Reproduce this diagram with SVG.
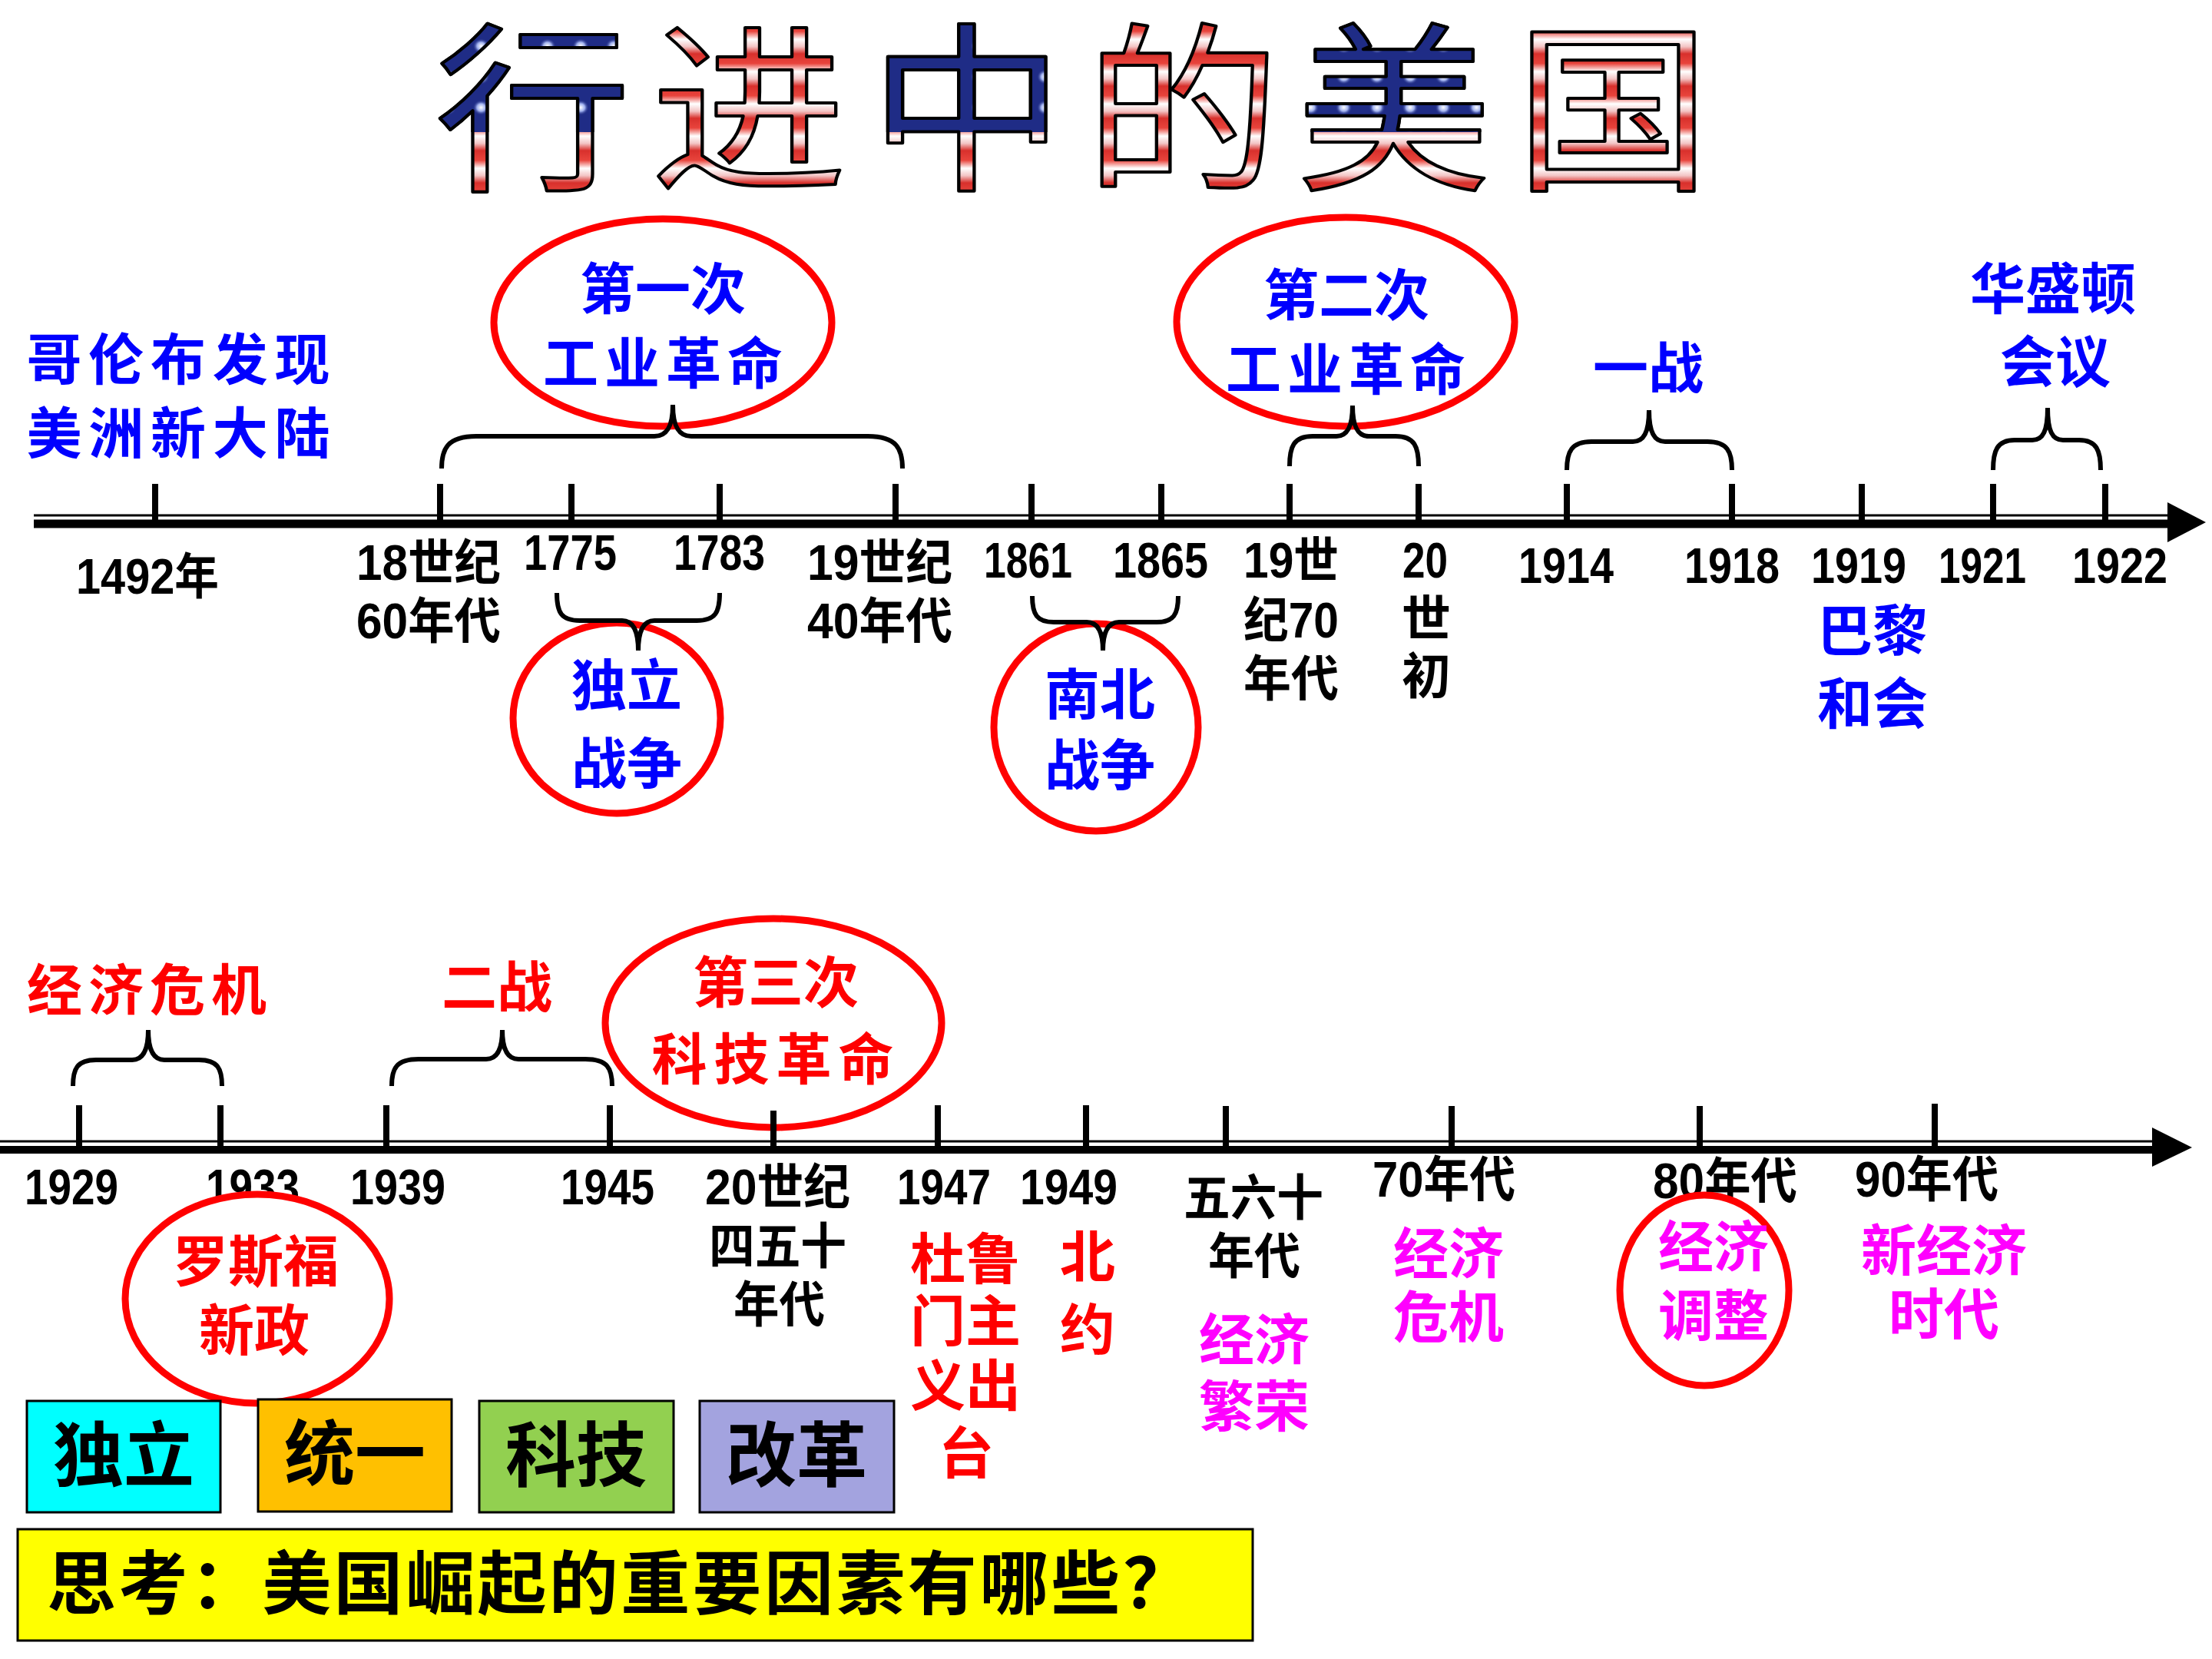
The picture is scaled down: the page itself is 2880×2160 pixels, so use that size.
<svg xmlns="http://www.w3.org/2000/svg" width="2880" height="2160" viewBox="0 0 2880 2160">
<style>
.num{font-family:"Liberation Sans Narrow","Liberation Sans","Noto Sans CJK SC",sans-serif;font-weight:bold;font-size:64px;fill:#000}
.lab{font-family:"Liberation Sans Narrow","Liberation Sans","Noto Sans CJK SC",sans-serif;font-weight:bold;font-size:64px;fill:#000}
.cjk{font-family:"Noto Sans CJK SC",sans-serif;font-weight:bold;font-size:72px;text-anchor:middle}
.blue{fill:#0000FF}
.red{fill:#FF0000}
.mag{fill:#FF00FF}
.ell{fill:#fff;stroke:#FF0000;stroke-width:9}
.brace{fill:none;stroke:#000;stroke-width:6;stroke-linecap:butt}
.tick{stroke:#000;stroke-width:8}
.box{stroke:#000;stroke-width:3}
.boxt{font-family:"Noto Sans CJK SC",sans-serif;font-weight:bold;font-size:92px;fill:#000;text-anchor:middle}
.title{font-family:"Noto Sans CJK SC",sans-serif;font-weight:400;font-size:236px;text-anchor:middle;stroke:#000;stroke-width:4;stroke-linejoin:round}
</style>
<defs>
<linearGradient id="stripes" gradientUnits="userSpaceOnUse" x1="0" y1="28" x2="0" y2="70" spreadMethod="repeat">
<stop offset="0" stop-color="#d8302c"/>
<stop offset="0.3" stop-color="#e8443c"/>
<stop offset="0.55" stop-color="#ffffff"/>
<stop offset="0.78" stop-color="#f3c4c4"/>
<stop offset="1" stop-color="#d8302c"/>
</linearGradient>
<radialGradient id="glow">
<stop offset="0" stop-color="#ffffff"/>
<stop offset="0.5" stop-color="#9fb0ee"/>
<stop offset="1" stop-color="#1f2c86" stop-opacity="0"/>
</radialGradient>
<pattern id="stars" patternUnits="userSpaceOnUse" width="40" height="40">
<rect width="40" height="40" fill="#1f2c86"/>
<circle cx="20" cy="20" r="10" fill="url(#glow)"/>
</pattern>
<clipPath id="topClip"><rect x="0" y="0" width="2880" height="172"/></clipPath>
</defs>

<g id="title" transform="scale(1.08,1)">
<text class="title" fill="url(#stripes)"><tspan x="642.6" y="230">行</tspan><tspan x="902.8" y="230">进</tspan><tspan x="1165.7" y="230">中</tspan><tspan x="1425.9" y="230">的</tspan><tspan x="1680.6" y="230">美</tspan><tspan x="1944.4" y="230">国</tspan></text>
<text class="title" fill="url(#stars)" clip-path="url(#topClip)"><tspan x="642.6" y="230">行</tspan><tspan x="1165.7" y="230">中</tspan><tspan x="1680.6" y="230">美</tspan></text>
</g>

<g id="labels-top">
<text class="lab" x="99" y="773" textLength="186" lengthAdjust="spacingAndGlyphs">1492年</text>
<text class="lab" x="464" y="755" textLength="188" lengthAdjust="spacingAndGlyphs">18世纪</text>
<text class="lab" x="464" y="831" textLength="188" lengthAdjust="spacingAndGlyphs">60年代</text>
<text class="num" x="682" y="742" textLength="121" lengthAdjust="spacingAndGlyphs">1775</text>
<text class="num" x="877" y="742" textLength="119" lengthAdjust="spacingAndGlyphs">1783</text>
<text class="lab" x="1051" y="755" textLength="189" lengthAdjust="spacingAndGlyphs">19世纪</text>
<text class="lab" x="1051" y="831" textLength="189" lengthAdjust="spacingAndGlyphs">40年代</text>
<text class="num" x="1281" y="752" textLength="115" lengthAdjust="spacingAndGlyphs">1861</text>
<text class="num" x="1449" y="752" textLength="124" lengthAdjust="spacingAndGlyphs">1865</text>
<text class="lab" x="1619" y="752" textLength="124" lengthAdjust="spacingAndGlyphs">19世</text>
<text class="lab" x="1619" y="830" textLength="124" lengthAdjust="spacingAndGlyphs">纪70</text>
<text class="lab" x="1619" y="906" textLength="124" lengthAdjust="spacingAndGlyphs">年代</text>
<text class="num" x="1826" y="752" textLength="59" lengthAdjust="spacingAndGlyphs">20</text>
<text class="lab" x="1825" y="828">世</text>
<text class="lab" x="1825" y="903">初</text>
<text class="num" x="1977" y="759" textLength="124" lengthAdjust="spacingAndGlyphs">1914</text>
<text class="num" x="2193" y="759" textLength="124" lengthAdjust="spacingAndGlyphs">1918</text>
<text class="num" x="2358" y="759" textLength="124" lengthAdjust="spacingAndGlyphs">1919</text>
<text class="num" x="2524" y="759" textLength="114" lengthAdjust="spacingAndGlyphs">1921</text>
<text class="num" x="2698" y="759" textLength="124" lengthAdjust="spacingAndGlyphs">1922</text>
</g>

<g id="labels-bottom">
<text class="num" x="32" y="1568" textLength="122" lengthAdjust="spacingAndGlyphs">1929</text>
<text class="num" x="268" y="1568" textLength="122" lengthAdjust="spacingAndGlyphs">1933</text>
<text class="num" x="456" y="1568" textLength="124" lengthAdjust="spacingAndGlyphs">1939</text>
<text class="num" x="730" y="1568" textLength="122" lengthAdjust="spacingAndGlyphs">1945</text>
<text class="lab" x="918" y="1568" textLength="189" lengthAdjust="spacingAndGlyphs">20世纪</text>
<text class="lab" x="923" y="1645" textLength="179" lengthAdjust="spacingAndGlyphs">四五十</text>
<text class="lab" x="955" y="1721" textLength="119" lengthAdjust="spacingAndGlyphs">年代</text>
<text class="num" x="1168" y="1568" textLength="122" lengthAdjust="spacingAndGlyphs">1947</text>
<text class="num" x="1328" y="1568" textLength="127" lengthAdjust="spacingAndGlyphs">1949</text>
<text class="lab" x="1541" y="1582" textLength="182" lengthAdjust="spacingAndGlyphs">五六十</text>
<text class="lab" x="1573" y="1658" textLength="120" lengthAdjust="spacingAndGlyphs">年代</text>
<text class="lab" x="1787" y="1558" textLength="186" lengthAdjust="spacingAndGlyphs">70年代</text>
<text class="lab" x="2152" y="1560" textLength="188" lengthAdjust="spacingAndGlyphs">80年代</text>
<text class="lab" x="2415" y="1558" textLength="187" lengthAdjust="spacingAndGlyphs">90年代</text>
</g>

<g id="events-plain">
<text class="cjk blue" x="232" y="494" textLength="395" lengthAdjust="spacing">哥伦布发现</text>
<text class="cjk blue" x="232" y="590" textLength="395" lengthAdjust="spacing">美洲新大陆</text>
<text class="cjk blue" x="2146" y="505">一战</text>
<text class="cjk blue" x="2673" y="402">华盛顿</text>
<text class="cjk blue" x="2676" y="497">会议</text>
<text class="cjk blue" x="2438" y="847">巴黎</text>
<text class="cjk blue" x="2438" y="942">和会</text>
<text class="cjk red" x="191" y="1315" textLength="312" lengthAdjust="spacing">经济危机</text>
<text class="cjk red" x="647" y="1311">二战</text>
<text class="cjk red" x="1257" y="1665">杜鲁</text>
<text class="cjk red" x="1257" y="1746">门主</text>
<text class="cjk red" x="1257" y="1830">义出</text>
<text class="cjk red" x="1258" y="1918">台</text>
<text class="cjk red" x="1416" y="1662">北</text>
<text class="cjk red" x="1416" y="1757">约</text>
<text class="cjk mag" x="1633" y="1770">经济</text>
<text class="cjk mag" x="1633" y="1857">繁荣</text>
<text class="cjk mag" x="1886" y="1658">经济</text>
<text class="cjk mag" x="1886" y="1741">危机</text>
<text class="cjk mag" x="2531" y="1654">新经济</text>
<text class="cjk mag" x="2531" y="1737">时代</text>
</g>

<g id="node-ir1">
<ellipse class="ell" cx="863" cy="420" rx="220" ry="135"/>
<text class="cjk blue" x="863" y="402">第一次</text>
<text class="cjk blue" x="863" y="499" textLength="312" lengthAdjust="spacing">工业革命</text>
</g>
<g id="node-ir2">
<ellipse class="ell" cx="1752" cy="419" rx="220" ry="136"/>
<text class="cjk blue" x="1753" y="410">第二次</text>
<text class="cjk blue" x="1752" y="507" textLength="312" lengthAdjust="spacing">工业革命</text>
</g>
<g id="node-indep">
<ellipse class="ell" cx="803" cy="935" rx="135" ry="124"/>
<text class="cjk blue" x="816" y="918">独立</text>
<text class="cjk blue" x="816" y="1020">战争</text>
</g>
<g id="node-civil">
<ellipse class="ell" cx="1427" cy="947" rx="133" ry="135"/>
<text class="cjk blue" x="1432" y="930">南北</text>
<text class="cjk blue" x="1432" y="1022">战争</text>
</g>
<g id="node-newdeal">
<ellipse class="ell" cx="335" cy="1691" rx="172" ry="136"/>
<text class="cjk red" x="333" y="1668">罗斯福</text>
<text class="cjk red" x="331" y="1758">新政</text>
</g>
<g id="node-ir3">
<ellipse class="ell" cx="1007" cy="1332" rx="219" ry="136"/>
<text class="cjk red" x="1010" y="1305">第三次</text>
<text class="cjk red" x="1006" y="1405" textLength="315" lengthAdjust="spacing">科技革命</text>
</g>
<g id="node-adjust">
<ellipse class="ell" cx="2219" cy="1680" rx="110" ry="124"/>
<text class="cjk mag" x="2231" y="1649">经济</text>
<text class="cjk mag" x="2231" y="1739">调整</text>
</g>

<g id="connectors">
<path class="brace" d="M575,610 C575,585 582,568 620,568 L852,568 C868,568 876,556 876,527 C876,556 884,568 900,568 L1130,568 C1168,568 1175,585 1175,610"/>
<path class="brace" d="M1679,607 C1679,582 1684,568 1709,568 L1740,568 C1754,568 1761,556 1761,528 C1761,556 1768,568 1782,568 L1817,568 C1842,568 1847,582 1847,607"/>
<path class="brace" d="M2040,612 C2040,588 2046,575 2072,575 L2126,575 C2140,575 2147,563 2147,534 C2147,563 2154,575 2168,575 L2223,575 C2249,575 2255,588 2255,612"/>
<path class="brace" d="M2595,612 C2595,587 2600,573 2623,573 L2646,573 C2660,573 2666,561 2666,531 C2666,561 2672,573 2686,573 L2707,573 C2730,573 2735,587 2735,612"/>
<path class="brace" d="M725,772 C725,798 731,808 755,808 L810,808 C824,808 831,820 831,847 C831,820 838,808 852,808 L907,808 C931,808 937,798 937,772"/>
<path class="brace" d="M1344,776 C1344,800 1350,810 1372,810 L1415,810 C1429,810 1436,822 1436,847 C1436,822 1443,810 1457,810 L1506,810 C1528,810 1534,800 1534,776"/>
<path class="brace" d="M95,1414 C95,1392 100,1380 125,1380 L172,1380 C186,1380 193,1368 193,1341 C193,1368 200,1380 214,1380 L259,1380 C284,1380 289,1392 289,1414"/>
<path class="brace" d="M510,1414 C510,1391 516,1379 545,1379 L633,1379 C647,1379 654,1367 654,1341 C654,1367 661,1379 675,1379 L762,1379 C791,1379 797,1391 797,1414"/>
</g>

<g id="axis-top">
<line x1="44" y1="671" x2="2830" y2="671" stroke="#000" stroke-width="3"/>
<line x1="44" y1="682" x2="2830" y2="682" stroke="#000" stroke-width="11"/>
<polygon points="2822,654 2872,680 2822,706" fill="#000"/>
<g class="tick">
<line x1="202" y1="630" x2="202" y2="682"/>
<line x1="573" y1="630" x2="573" y2="682"/>
<line x1="744" y1="630" x2="744" y2="682"/>
<line x1="937" y1="630" x2="937" y2="682"/>
<line x1="1166" y1="630" x2="1166" y2="682"/>
<line x1="1343" y1="630" x2="1343" y2="682"/>
<line x1="1512" y1="630" x2="1512" y2="682"/>
<line x1="1679" y1="630" x2="1679" y2="682"/>
<line x1="1847" y1="630" x2="1847" y2="682"/>
<line x1="2040" y1="630" x2="2040" y2="682"/>
<line x1="2255" y1="630" x2="2255" y2="682"/>
<line x1="2424" y1="630" x2="2424" y2="682"/>
<line x1="2595" y1="630" x2="2595" y2="682"/>
<line x1="2741" y1="630" x2="2741" y2="682"/>
</g>
</g>

<g id="axis-bottom">
<line x1="0" y1="1486" x2="2810" y2="1486" stroke="#000" stroke-width="3"/>
<line x1="0" y1="1497" x2="2810" y2="1497" stroke="#000" stroke-width="10"/>
<polygon points="2802,1468 2854,1494 2802,1519" fill="#000"/>
<g class="tick">
<line x1="103" y1="1439" x2="103" y2="1495"/>
<line x1="287" y1="1439" x2="287" y2="1495"/>
<line x1="503" y1="1439" x2="503" y2="1495"/>
<line x1="794" y1="1439" x2="794" y2="1495"/>
<line x1="1007" y1="1446" x2="1007" y2="1495"/>
<line x1="1221" y1="1439" x2="1221" y2="1495"/>
<line x1="1414" y1="1439" x2="1414" y2="1495"/>
<line x1="1596" y1="1440" x2="1596" y2="1495"/>
<line x1="1890" y1="1440" x2="1890" y2="1495"/>
<line x1="2213" y1="1440" x2="2213" y2="1495"/>
<line x1="2519" y1="1437" x2="2519" y2="1495"/>
</g>
</g>

<g id="box-indep"><rect class="box" x="35" y="1824" width="252" height="145" fill="#00FFFF"/><text class="boxt" x="161" y="1928">独立</text></g>
<g id="box-unity"><rect class="box" x="336" y="1822" width="252" height="146" fill="#FFC000"/><text class="boxt" x="462" y="1926">统一</text></g>
<g id="box-tech"><rect class="box" x="624" y="1824" width="253" height="145" fill="#92D050"/><text class="boxt" x="750" y="1928">科技</text></g>
<g id="box-reform"><rect class="box" x="911" y="1824" width="253" height="145" fill="#A3A3DF"/><text class="boxt" x="1037" y="1928">改革</text></g>

<g id="question">
<rect x="23" y="1991" width="1608" height="145" fill="#FFFF00" stroke="#000" stroke-width="3"/>
<text x="61" y="2094" font-family="Noto Sans CJK SC, sans-serif" font-weight="bold" font-size="90" fill="#000" textLength="1491" lengthAdjust="spacing">思考：美国崛起的重要因素有哪些？</text>
</g>
</svg>
